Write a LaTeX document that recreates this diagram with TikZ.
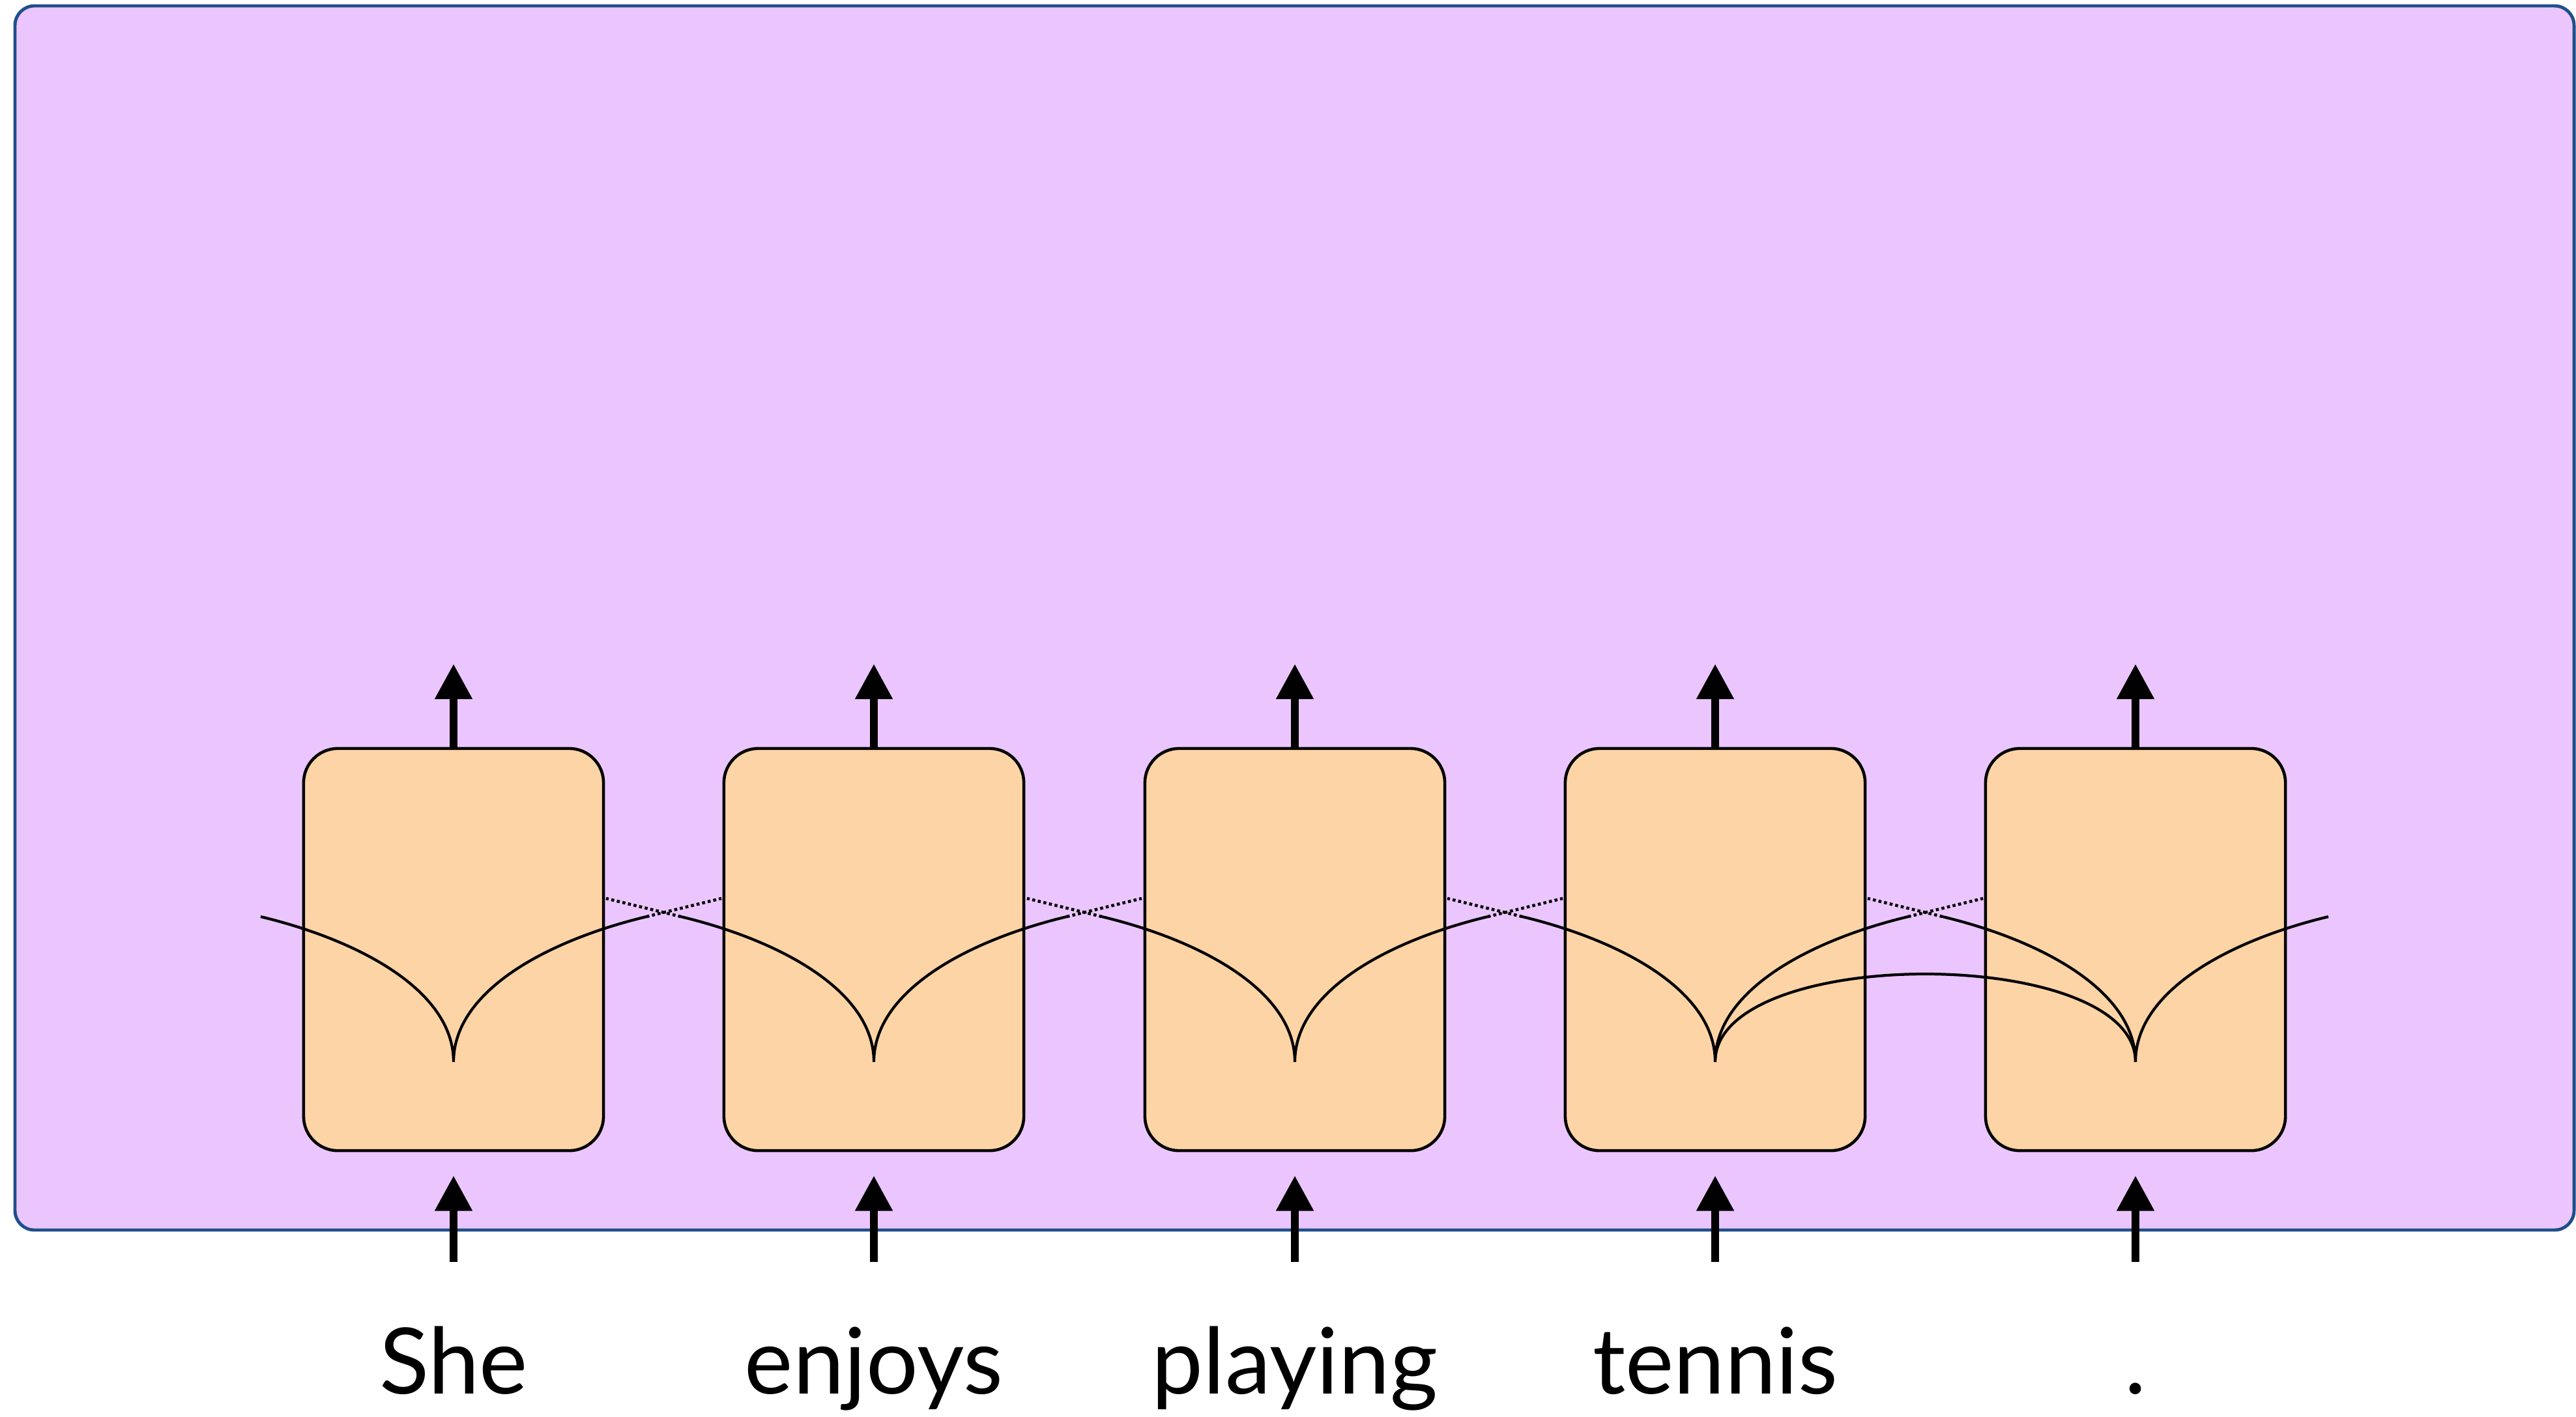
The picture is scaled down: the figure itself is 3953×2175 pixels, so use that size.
\documentclass[tikz,border=0pt]{standalone}
\usepackage{fontspec}
\setmainfont{Lato}
\usetikzlibrary{arrows.meta}

\definecolor{fondo}{RGB}{235,198,254}
\definecolor{borde}{RGB}{31,79,139}
\definecolor{naranja}{RGB}{253,212,166}

\tikzset{
    celda/.style={draw=black,line width=1.3pt,fill=naranja,rounded corners=15pt,
        minimum width=4.6cm,minimum height=6.17cm,inner sep=0pt},
    flecha/.style={line width=3.4pt,-{Triangle[width=15.6pt,length=15.4pt]}},
    rama/.style={line width=1.2pt},
    punteado/.style={line width=1.3pt,dash pattern=on 1.3pt off 1.2pt},
    palabra/.style={anchor=base,inner sep=0pt,font=\fontsize{40}{48}\selectfont}
}

\begin{document}
\begin{tikzpicture}[x=0.01cm,y=-0.01cm]
\useasboundingbox (0,0) rectangle (3953,2175);
    %Recuadro de fondo
    \draw[borde,line width=1.4pt,fill=fondo,rounded corners=8.5pt] (23,9) rectangle (3950,1888);

    %Celdas, palabras y flechas
    \foreach \i/\x/\w in {1/696/She,2/1341/enjoys,3/1987/playing,4/2632/tennis,5/3277/.}{
        \node[celda] (c\i) at (\x,1457.5) {};
        \coordinate (v\i) at (\x,1630);
        \coordinate (l\i) at (\x-296,1407);
        \coordinate (r\i) at (\x+296,1407);
        \coordinate (lp\i) at (\x-411,1379);
        \coordinate (rp\i) at (\x+411,1379);
        \coordinate (in\i) at (\x,1937);
        \coordinate (out\i) at (\x,1019);
        \node[palabra] (w\i) at (\x,2139) {\w};
        \draw[flecha,shorten >=0.36cm] (in\i) -- (c\i.south);
        \draw[flecha] (c\i.north) -- (out\i);
        \draw[rama] (l\i) .. controls +(150,36) and +(0,-110) .. (v\i)
            .. controls +(0,-110) and +(-150,36) .. (r\i);
    }

    %Tramos punteados entre celdas
    \foreach \i in {1,...,4}{
        \draw[punteado] (r\i) -- (rp\i);
    }
    \foreach \i in {2,...,5}{
        \draw[punteado] (l\i) -- (lp\i);
    }

    %Arco largo
    \draw[rama] (v4) .. controls +(0,-180) and +(0,-180) .. (v5);
\end{tikzpicture}
\end{document}
